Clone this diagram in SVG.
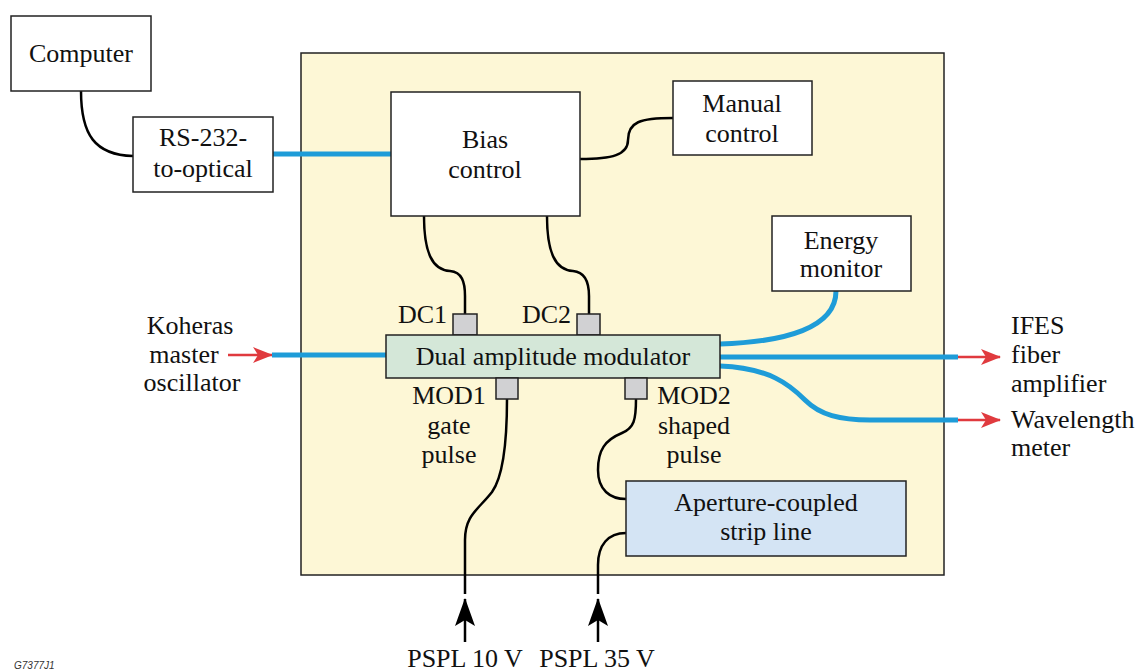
<svg xmlns="http://www.w3.org/2000/svg" width="1138" height="671" viewBox="0 0 1138 671">
<style>
text{font-family:"Liberation Serif","Times New Roman",serif;font-size:26px;fill:#111;}
.c{text-anchor:middle}
.e{text-anchor:end}
.box{fill:#fff;stroke:#222;stroke-width:1.5}
.port{fill:#d1d1d3;stroke:#222;stroke-width:1.5}
.fib{fill:none;stroke:#1e9cd8;stroke-width:5}
.wire{fill:none;stroke:#000;stroke-width:2.5}
.red{fill:none;stroke:#e03a3e;stroke-width:2.5}
</style>
<defs>
<marker id="ar" viewBox="0 0 20 16" refX="19" refY="8" markerWidth="20" markerHeight="16" markerUnits="userSpaceOnUse" orient="auto">
<path d="M0,0 L20,8 L0,16 L5,8 Z" fill="#e03a3e"/>
</marker>
<marker id="ab" viewBox="0 0 28 20" refX="27" refY="10" markerWidth="28" markerHeight="20" markerUnits="userSpaceOnUse" orient="auto">
<path d="M0,0 L28,10 L0,20 L6,10 Z" fill="#000"/>
</marker>
</defs>
<rect width="1138" height="671" fill="#fff"/>
<g id="enclosure"><rect x="301" y="53" width="643" height="522" fill="#fdf7d6" stroke="#222" stroke-width="1.5"/></g>
<g id="connectors">
<path class="wire" d="M81,91 C81,135 95,155 133,156"/>
<path class="fib" d="M273,154 L391,154"/>
<path class="wire" d="M580,159 C612,159 628,155 628,140 C628,122 640,118 673,118"/>
<path class="wire" d="M424,216 C424,252 432,270 450,271 C462,272 465,282 465,296 L465,314"/>
<path class="wire" d="M547,216 C547,252 555,270 573,271 C585,272 589,282 589,296 L589,314"/>
<path class="fib" d="M720,344 C785,342 836,328 836,291"/>
<path class="fib" d="M720,357 L958,357"/>
<path class="fib" d="M720,366 C770,368 790,385 805,400 C820,415 840,420 870,420 L958,420"/>
<path class="red" d="M958,357 L1000,357" marker-end="url(#ar)"/>
<path class="red" d="M958,420 L1000,420" marker-end="url(#ar)"/>
<path class="red" d="M228,355 L272,355" marker-end="url(#ar)"/>
<path class="fib" d="M272,355 L386,355"/>
<path class="wire" d="M507,399 C507,445 502,478 492,492 C478,510 465,515 465,540 L465,594"/>
<path class="wire" d="M636,399 C636,420 634,428 622,433 C605,440 598,450 598,470 C598,490 610,499 626,499"/>
<path class="wire" d="M626,533 C608,533 598,545 598,565 L598,594"/>
<path class="wire" d="M465,642 L465,599" marker-end="url(#ab)"/>
<path class="wire" d="M598,642 L598,599" marker-end="url(#ab)"/>
</g>
<g id="computer"><rect class="box" x="11" y="16" width="140" height="75"/><text class="c" x="81" y="62">Computer</text></g>
<g id="rs232"><rect class="box" x="133" y="117" width="140" height="75"/><text class="c" x="203" y="146">RS-232-</text><text class="c" x="203" y="177">to-optical</text></g>
<g id="bias"><rect class="box" x="391" y="92" width="189" height="124"/><text class="c" x="485" y="148">Bias</text><text class="c" x="485" y="178">control</text></g>
<g id="manual"><rect class="box" x="673" y="81" width="139" height="74"/><text class="c" x="742" y="112">Manual</text><text class="c" x="742" y="142">control</text></g>
<g id="energy"><rect class="box" x="772" y="216" width="139" height="75"/><text class="c" x="841" y="249">Energy</text><text class="c" x="841" y="277">monitor</text></g>
<g id="dc1"><rect class="port" x="453" y="314" width="24" height="21"/><text class="e" x="447" y="323">DC1</text></g>
<g id="dc2"><rect class="port" x="577" y="314" width="23" height="21"/><text class="e" x="571" y="323">DC2</text></g>
<g id="modulator"><rect x="386" y="335" width="334" height="43" fill="#d4e7d8" stroke="#222" stroke-width="1.5"/><text class="c" x="553" y="365">Dual amplitude modulator</text></g>
<g id="mod1"><rect class="port" x="496" y="378" width="22" height="21"/><text class="c" x="449" y="404">MOD1</text><text class="c" x="449" y="434">gate</text><text class="c" x="449" y="463">pulse</text></g>
<g id="mod2"><rect class="port" x="625" y="378" width="22" height="21"/><text class="c" x="694" y="404">MOD2</text><text class="c" x="694" y="434">shaped</text><text class="c" x="694" y="463">pulse</text></g>
<g id="stripline"><rect x="626" y="481" width="280" height="75" fill="#d4e4f4" stroke="#222" stroke-width="1.5"/><text class="c" x="766" y="511">Aperture-coupled</text><text class="c" x="766" y="540">strip line</text></g>
<g id="koheras"><text class="c" x="190" y="334">Koheras</text><text class="c" x="184" y="363">master</text><text class="c" x="192" y="391">oscillator</text></g>
<g id="ifes"><text x="1011" y="334">IFES</text><text x="1011" y="363">fiber</text><text x="1011" y="392">amplifier</text></g>
<g id="wavemeter"><text x="1011" y="428">Wavelength</text><text x="1011" y="456">meter</text></g>
<g id="pspl10"><text class="c" x="465" y="667">PSPL 10 V</text></g>
<g id="pspl35"><text class="c" x="597" y="667">PSPL 35 V</text></g>
<text x="14" y="669" style="font-family:'Liberation Sans',Arial,sans-serif;font-size:10px;font-style:italic;fill:#333">G7377J1</text>
</svg>
